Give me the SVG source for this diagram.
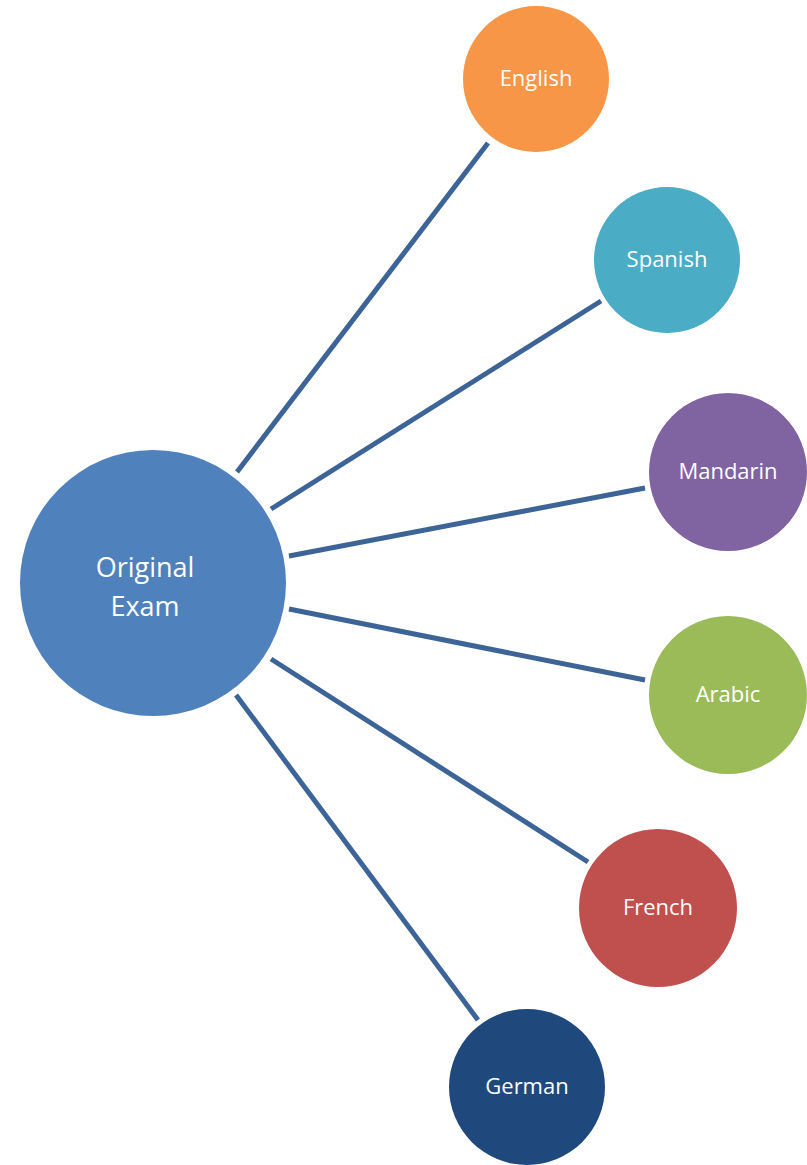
<svg xmlns="http://www.w3.org/2000/svg" width="807" height="1165" viewBox="0 0 807 1165">
<style>
.lbl{font-family:"Open Sans","Noto Sans",sans-serif;fill:#fff;text-anchor:middle;font-size:22px}
.big{font-size:27px}
.con line{stroke:#3c6496;stroke-width:5}
</style>
<rect width="807" height="1165" fill="#fff"/>
<g id="connectors" class="con">
<line x1="237" y1="472" x2="488" y2="143"/>
<line x1="271" y1="509" x2="601" y2="301"/>
<line x1="289" y1="556" x2="645" y2="488"/>
<line x1="289" y1="609" x2="645" y2="680"/>
<line x1="271" y1="659" x2="588" y2="862"/>
<line x1="236" y1="695" x2="478" y2="1020"/>
</g>
<g id="original-exam"><circle cx="153" cy="583" r="133" fill="#4f81bd"/><text class="lbl big" x="145" y="577">Original</text><text class="lbl big" x="145" y="616">Exam</text></g>
<g id="english"><circle cx="536" cy="79" r="73" fill="#f79646"/><text class="lbl" x="536" y="86">English</text></g>
<g id="spanish"><circle cx="667" cy="260" r="73" fill="#4bacc6"/><text class="lbl" x="667" y="267">Spanish</text></g>
<g id="mandarin"><circle cx="728" cy="472" r="79" fill="#8064a2"/><text class="lbl" x="728" y="479">Mandarin</text></g>
<g id="arabic"><circle cx="728" cy="695" r="79" fill="#9bbb59"/><text class="lbl" x="728" y="702">Arabic</text></g>
<g id="french"><circle cx="658" cy="908" r="79" fill="#c0504d"/><text class="lbl" x="658" y="915">French</text></g>
<g id="german"><circle cx="527" cy="1087" r="78" fill="#1f497d"/><text class="lbl" x="527" y="1094">German</text></g>
</svg>
